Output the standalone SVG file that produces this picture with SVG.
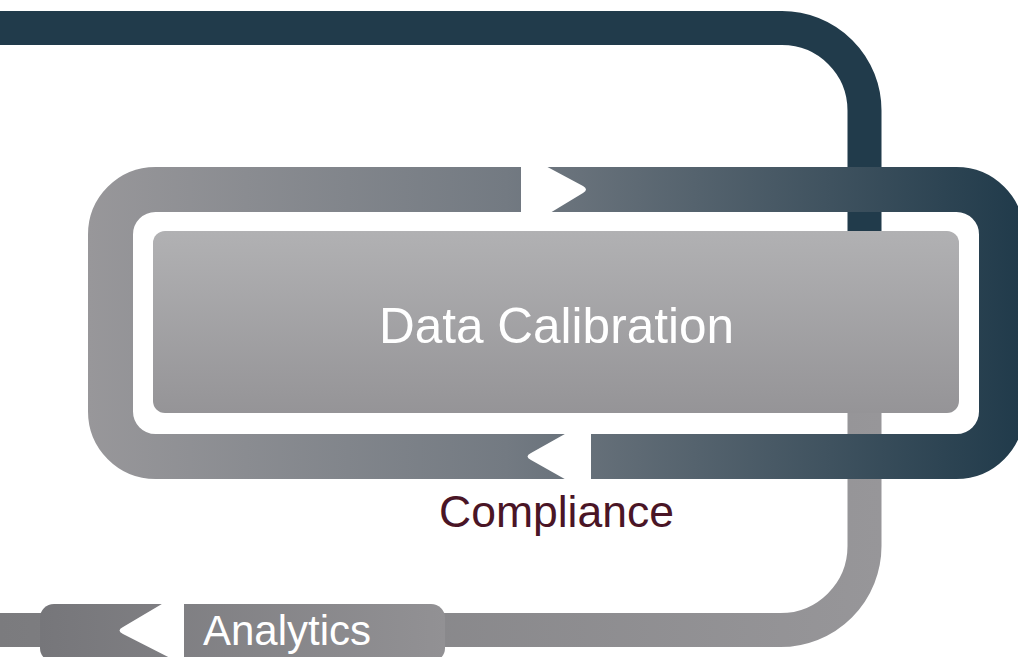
<svg xmlns="http://www.w3.org/2000/svg" width="1018" height="657" viewBox="0 0 1018 657">
  <style>
    .lbl { font-family: "Liberation Sans", Arial, sans-serif; text-anchor: middle; }
    .pipe { fill: none; stroke-width: 34; }
    .cut { fill: #ffffff; }
  </style>
  <defs>
    <linearGradient id="ringGrad" gradientUnits="userSpaceOnUse" x1="88" y1="0" x2="1018" y2="0">
      <stop offset="0" stop-color="#98979a"/>
      <stop offset="0.45" stop-color="#737a82"/>
      <stop offset="1" stop-color="#213b4b"/>
    </linearGradient>
    <linearGradient id="boxGrad" x1="0" y1="0" x2="0" y2="1">
      <stop offset="0" stop-color="#b1b1b3"/>
      <stop offset="1" stop-color="#959497"/>
    </linearGradient>
    <linearGradient id="pipeGrad" gradientUnits="userSpaceOnUse" x1="0" y1="0" x2="880" y2="0">
      <stop offset="0" stop-color="#7b7b7e"/>
      <stop offset="1" stop-color="#979699"/>
    </linearGradient>
    <linearGradient id="pillGrad" gradientUnits="userSpaceOnUse" x1="40" y1="0" x2="445" y2="0">
      <stop offset="0" stop-color="#76767a"/>
      <stop offset="1" stop-color="#929194"/>
    </linearGradient>
  </defs>

  <g id="connectors">
    <path id="pipe-in" class="pipe" stroke="#213b4b" d="M -5 28 H 782 A 82.5 82.5 0 0 1 864.5 110.5 V 240"/>
    <path id="pipe-out" class="pipe" stroke="url(#pipeGrad)" d="M 864.5 400 V 546 A 84 84 0 0 1 780.5 630 H -5"/>
    <g id="compliance-loop">
      <rect x="110.5" y="189.5" width="891" height="267" rx="45" fill="none" stroke="url(#ringGrad)" stroke-width="45"/>
      <path class="cut" d="M521 163 H540 L583 186 Q589 189.5 583 193 L545 216 H521 Z"/>
      <path class="cut" d="M591 430 H572 L531 453 Q524 456.5 531 460 L570 482 H591 Z"/>
    </g>
  </g>

  <g id="node-data-calibration">
    <rect x="153" y="231" width="806" height="182" rx="12" fill="url(#boxGrad)"/>
    <text class="lbl" x="556.5" y="343" font-size="49.5" fill="#ffffff">Data Calibration</text>
  </g>

  <g id="node-compliance">
    <text class="lbl" x="556.5" y="527" font-size="44.5" fill="#4a1526">Compliance</text>
  </g>

  <g id="node-analytics">
    <rect x="40" y="604" width="405" height="58" rx="14" fill="url(#pillGrad)"/>
    <path class="cut" d="M184 598 H172 L123 627 Q116 630.5 123 634 L178 662 H184 Z"/>
    <text class="lbl" x="287" y="645" font-size="42" fill="#ffffff">Analytics</text>
  </g>
</svg>
